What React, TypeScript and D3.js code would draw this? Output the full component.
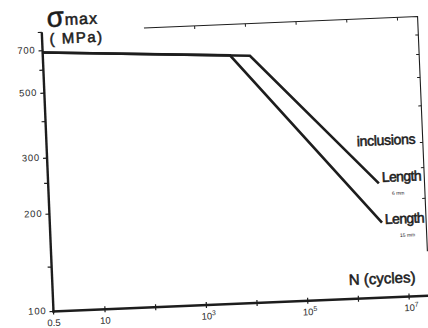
import React from "react";
import * as d3 from "d3";

// stress axis, MPa (hand drawn log scale)
const sigmaTicks = [100, 150, 200, 250, 300, 400, 500, 600, 700];
const sigmaLabels = [100, 200, 300, 500, 700];
const sigmaRightTicks = [200, 250, 300, 400, 500, 600, 700];
const sigmaTop = 810;
const sigmaRightBottom = 150;

// cycles axis
const cycleTicks = [0.5, 10, 1e2, 1e3, 1e4, 1e5, 1e6, 1e7];
const cycleLabelBase = ["0.5", "10", "", "10", "", "10", "", "10"];
const cycleLabelExp = ["", "", "", "3", "", "5", "", "7"];
const cycleTopTicks = [1e3, 1e4, 1e5, 1e6, 1e7];
const cycleTopStart = 100;
const cycleFrameEnd = 2.5e7;
const cycleAxisEnd = 4e7;

// S-N curves, inclusion length 6 mm and 15 mm
const cyclesLen6 = [0.5, 11600, 3.15e6];
const sigmaLen6 = [690, 628, 226];
const cyclesLen15 = [0.5, 4700, 3.37e6];
const sigmaLen15 = [690, 634, 177];

export default function App() {
  const W = 428;
  const H = 328;
  const ink = "#1d1d1d";
  const hand = "'Liberation Sans', Arial, sans-serif";

  // the axes of the drawing are not quite log-regular, so the scales are polylinear
  const x = d3.scaleLog().domain([0.5, 10, 1e7]).range([53.5, 105, 409.4]);
  const y = d3
    .scaleLog()
    .domain([100, 150, 200, 300, 500, 700])
    .range([311.5, 267, 214, 158, 93, 50.5]);

  const x0 = x(0.5);
  const y0 = y(100);
  const xFrame = x(cycleFrameEnd);
  const yTop = y(sigmaTop);

  const line = d3
    .line<[number, number]>()
    .x((d) => x(d[0]))
    .y((d) => y(d[1]));

  const curves = [
    d3.zip(cyclesLen6, sigmaLen6) as [number, number][],
    d3.zip(cyclesLen15, sigmaLen15) as [number, number][],
  ];

  // felt-pen look for the handwritten words
  const pen = { stroke: ink, strokeWidth: 0.55 };

  return (
    <svg
      width={W}
      height={H}
      style={{ position: "absolute", left: 0, top: 0, background: "#fff" }}
    >
      <rect width={W} height={H} fill="#fff" />
      <g transform={`rotate(-2.4 ${x0} ${y0})`} fontFamily={hand} fill={ink}>
        {/* thin frame on top and right */}
        <path
          d={`M${x(cycleTopStart)},${yTop}H${xFrame}V${y(sigmaRightBottom)}`}
          fill="none"
          stroke={ink}
          strokeWidth={1.1}
        />
        {cycleTopTicks.map((t) => (
          <line key={"tt" + t} x1={x(t)} x2={x(t)} y1={yTop} y2={yTop + 3} stroke={ink} strokeWidth={1} />
        ))}
        {sigmaRightTicks.map((t) => (
          <line key={"rt" + t} x1={xFrame} x2={xFrame - 3} y1={y(t)} y2={y(t)} stroke={ink} strokeWidth={1} />
        ))}

        {/* y axis */}
        <line x1={x0} x2={x0} y1={y0 + 1} y2={yTop} stroke={ink} strokeWidth={2.4} />
        <line x1={x0} x2={x0 - 4} y1={yTop} y2={yTop} stroke={ink} strokeWidth={1.2} />
        {sigmaTicks.map((t) => (
          <line key={"yt" + t} x1={x0} x2={x0 - 4} y1={y(t)} y2={y(t)} stroke={ink} strokeWidth={1.2} />
        ))}
        {sigmaLabels.map((t) => (
          <text
            key={"yl" + t}
            x={x0 - 7}
            y={y(t) - 1}
            dy="0.35em"
            textAnchor="end"
            fontSize={9.5}
            letterSpacing={0.8}
            fill="#2a2a2a"
          >
            {t}
          </text>
        ))}

        {/* x axis */}
        <line x1={x0 - 1} x2={x(cycleAxisEnd)} y1={y0} y2={y0} stroke={ink} strokeWidth={2.6} />
        {cycleTicks.map((t) => (
          <line key={"xt" + t} x1={x(t)} x2={x(t)} y1={y0 - 3} y2={y0 + 3} stroke={ink} strokeWidth={1.2} />
        ))}
        {cycleTicks.map((t, i) =>
          cycleLabelBase[i] ? (
            <text
              key={"xl" + t}
              x={x(t) + (cycleLabelExp[i] ? 2 : 0)}
              y={y0 + 14.5}
              textAnchor="middle"
              fontSize={9.5}
              fill="#2a2a2a"
            >
              {cycleLabelBase[i]}
              {cycleLabelExp[i] ? (
                <tspan fontSize={7} dy={-4}>
                  {cycleLabelExp[i]}
                </tspan>
              ) : null}
            </text>
          ) : null
        )}

        {/* curves */}
        {curves.map((c, i) => (
          <path
            key={"c" + i}
            d={line(c) || ""}
            fill="none"
            stroke={ink}
            strokeWidth={2.6}
            strokeLinejoin="miter"
          />
        ))}

        {/* axis titles */}
        <text x={59} y={27} fontSize={28} {...pen}>σ</text>
        <text x={77} y={25.7} fontSize={16} letterSpacing={1} {...pen}>max</text>
        <text x={61} y={44} fontSize={15} letterSpacing={1.5} {...pen}>( MPa)</text>
        <text x={349.9} y={297.4} fontSize={15} {...pen}>N (cycles)</text>

        {/* curve labels */}
        <text x={363.7} y={159} fontSize={14} letterSpacing={-0.3} {...pen}>inclusions</text>
        <text x={387.1} y={195.9} fontSize={14} letterSpacing={-0.6} {...pen}>Length</text>
        <text x={396.6} y={209.3} fontSize={5}>6 mm</text>
        <text x={388.4} y={238} fontSize={14} letterSpacing={-0.6} {...pen}>Length</text>
        <text x={402.8} y={251.6} fontSize={5}>15 mm</text>
      </g>
    </svg>
  );
}
